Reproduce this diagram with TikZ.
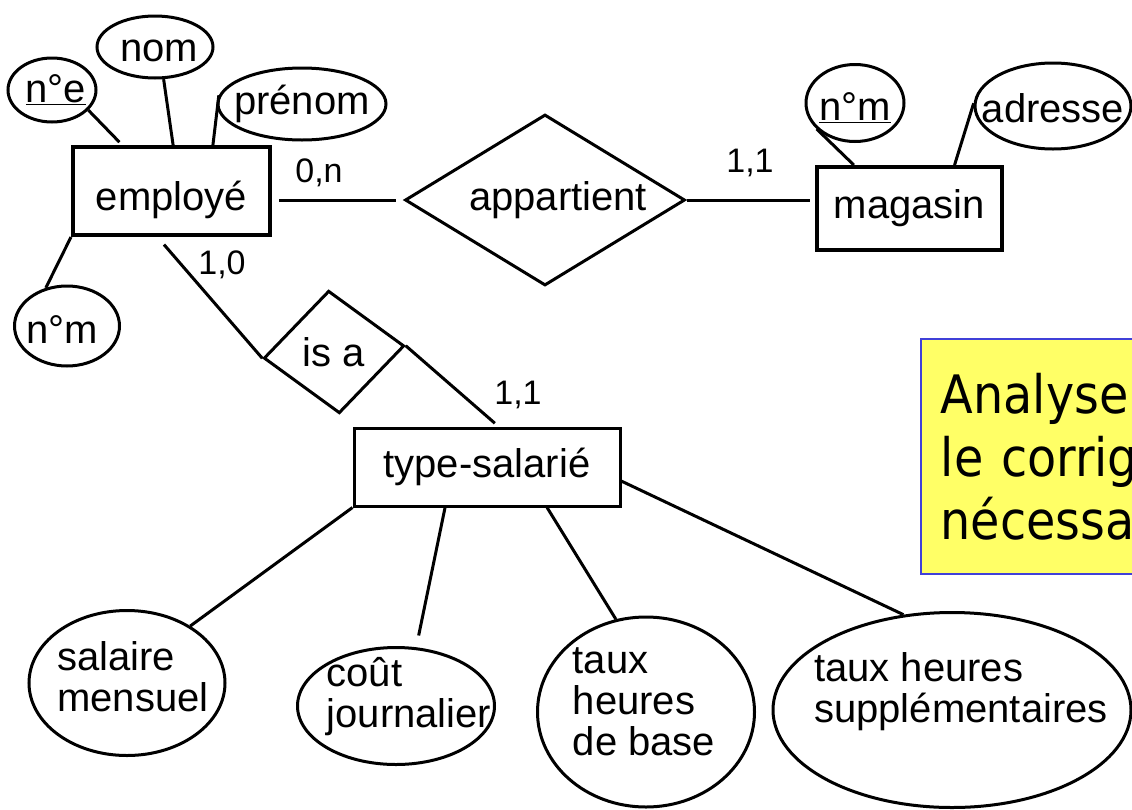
\documentclass[tikz,border=0pt]{standalone}
\usepackage{fontspec}
\setmainfont{Liberation Sans}
\newfontfamily\notefont{DejaVu Sans Condensed}
\usetikzlibrary{shapes.geometric}
\newlength{\lw}
\setlength{\lw}{3pt}
\definecolor{notefill}{RGB}{255,255,102}
\definecolor{noteline}{RGB}{64,64,216}
\tikzset{entity/.style={draw, line width=4pt, rectangle, inner sep=0pt, font=\fontsize{40}{42}\selectfont}}
\tikzset{relation/.style={draw, line width=\lw, diamond, inner sep=0pt, font=\fontsize{40}{42}\selectfont}}
\tikzset{attribute/.style={draw, line width=\lw, ellipse, inner sep=0pt}}
\tikzset{attrlabel/.style={inner sep=0pt, align=left, font=\fontsize{40}{41}\selectfont}}
\tikzset{card/.style={inner sep=0pt, font=\fontsize{34}{36}\selectfont}}
\tikzset{link/.style={line width=\lw}}
\tikzset{note/.style={draw=noteline, line width=1.5pt, fill=notefill, inner sep=0pt, inner xsep=20pt, align=left, font=\notefont\fontsize{53}{63}\selectfont}}

\begin{document}
\begin{tikzpicture}[x=1pt, y=-1pt]
	\useasboundingbox (0,0) rectangle (1132,809);
	\clip (0,0) rectangle (1132,809);
	
	%%% NODES %%%
	
	% ENTITIES
	\node[entity, minimum width=197pt, minimum height=88pt, text height=38pt, text depth=0pt] at (171.5,191) (employe) {employé};
	\node[entity, minimum width=185pt, minimum height=83pt] at (909.5,208.5) (magasin) {magasin};
	\node[entity, line width=3pt, minimum width=266pt, minimum height=78pt] at (487,467) (typesal) {type-salarié};
	
	% RELATIONS
	\node[relation, aspect=1.6, minimum width=280pt, minimum height=171pt] at (545,200) (appartient) {\hspace*{26pt}appartient};
	\node[relation, rotate=5, minimum width=141pt, minimum height=123pt] at (334,352) (isa) {\rotatebox{-5}{is a}};
	
	% EMPLOYE ATTRIBUTES
	\node[attribute, minimum width=88pt, minimum height=64pt, label={[attrlabel, xshift=4pt]center:\underline{n°e}}] at (52,90) (ne) {};
	\node[attribute, minimum width=116pt, minimum height=62pt, label={[attrlabel, xshift=4pt, yshift=-4pt]center:nom}] at (155,47) (nom) {};
	\node[attribute, minimum width=168pt, minimum height=72pt, label={[attrlabel]center:prénom}] at (302,104) (prenom) {};
	\node[attribute, minimum width=105pt, minimum height=80pt, label={[attrlabel, xshift=-5pt, yshift=-4pt]center:n°m}] at (67,326) (nme) {};
	
	% MAGASIN ATTRIBUTES
	\node[attribute, minimum width=98pt, minimum height=77pt, label={[attrlabel, yshift=-5pt]center:\underline{n°m}}] at (855,103) (nmm) {};
	\node[attribute, minimum width=156pt, minimum height=86pt, label={[attrlabel, yshift=-2pt]center:adresse}] at (1053,106) (adresse) {};
	
	% TYPE-SALARIE ATTRIBUTES
	\node[attribute, minimum width=196pt, minimum height=145pt, label={[attrlabel, xshift=6pt, yshift=6pt]center:salaire\\mensuel}] at (127,683) (salaire) {};
	\node[attribute, minimum width=197pt, minimum height=117pt, label={[attrlabel, xshift=13pt, yshift=9pt]center:coût\\journalier}] at (396,706) (cout) {};
	\node[attribute, minimum width=217pt, minimum height=190pt, label={[attrlabel, xshift=-2pt, yshift=10pt]center:taux\\heures\\de base}] at (646,712) (tauxbase) {};
	\node[attribute, minimum width=358pt, minimum height=195pt, label={[attrlabel, xshift=9pt, yshift=18pt]center:taux heures\\supplémentaires}] at (952,710) (tauxsup) {};
	
	% CARDINALITIES
	\node[card] at (319,173) (card-emp-app) {0,n};
	\node[card] at (750,163) (card-mag-app) {1,1};
	\node[card] at (222,265) (card-emp-isa) {1,0};
	\node[card] at (518,395) (card-typ-isa) {1,1};
	
	% NOTE
	\node[note, anchor=north west, minimum height=235pt, text width=400pt] at (920,338) (task) {Analyser et\\le corriger si\\nécessaire};
	
	
	%%% LINKS %%%
	
	% EMPLOYE ATTRIBUTES
	\draw[link, shorten >=4pt] (ne.-29) -- (employe.137);
	\draw[link] (nom.-75) -- (employe.88);
	\draw[link] (prenom.174) -- (employe.48);
	\draw[link] (nme.119) -- (employe.south west);
	
	% APPARTIENT
	\draw[link, shorten <=7pt, shorten >=8pt] (employe.east |- appartient.west) -- (appartient.west);
	\draw[link, shorten >=5pt] (appartient.east) -- (appartient.east -| magasin.west);
	
	% MAGASIN ATTRIBUTES
	\draw[link] (nmm.214) -- (magasin.142);
	\draw[link] (adresse.178) -- (magasin.44);
	
	% IS A
	\draw[link, shorten <=10pt] (employe.253) -- (isa.west);
	\draw[link, shorten >=5pt] (isa.east) -- (typesal.74);
	
	% TYPE-SALARIE ATTRIBUTES
	\draw[link] (typesal.south west) -- (salaire.42);
	\draw[link, shorten >=12pt] (typesal.224) -- (cout.71);
	\draw[link] (typesal.-34) -- (tauxbase.108);
	\draw[link] (typesal.-6) -- (tauxsup.117);
	
\end{tikzpicture}
\end{document}
